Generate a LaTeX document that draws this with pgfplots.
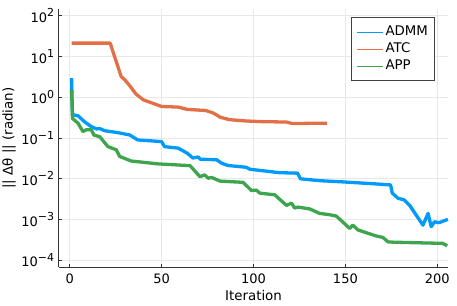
\documentclass[border=0pt]{standalone}
\usepackage{fontspec}
\setmainfont{DejaVu Sans}
\usepackage{pgfplots}
\pgfplotsset{compat=1.18}
\definecolor{cA}{RGB}{0,154,250}
\definecolor{cB}{RGB}{227,111,71}
\definecolor{cC}{RGB}{62,164,78}
\newcommand{\tl}[1]{10\raisebox{0.42em}{\fontsize{11}{11}\selectfont #1}}
\begin{document}
\fontsize{13.2}{15}\selectfont
\begin{tikzpicture}
\begin{axis}[
  at={(0,0)}, anchor=south west,
  scale only axis, width=389.6pt, height=257.7pt,
  xmin=-6, xmax=206,
  ymode=log, ymin=6.76e-5, ymax=143.5,
  axis x line*=bottom, axis y line*=left,
  axis line style={-, draw=black!80, line width=0.9pt},
  xtick={0,50,100,150,200},
  ytick={1e-4,1e-3,1e-2,1e-1,1,10,100},
  yticklabels={\tl{−4},\tl{−3},\tl{−2},\tl{−1},\tl{0},\tl{1},\tl{2}},
  /pgf/number format/assume math mode=true,
  tick style={draw=black!80, line width=0.6pt},
  major tick length=3pt,
  minor tick num=0,
  yminorticks=false,
  grid=major,
  major grid style={draw=black!9, line width=0.5pt},
  tick label style={font=\fontsize{13}{15}\selectfont},
  xticklabel style={yshift=-2pt},
  label style={font=\fontsize{13.4}{15}\selectfont},
  xlabel={Iteration},
  ylabel={|| Δθ || (radian)},
  xlabel style={at={(axis description cs:0.5,-0.1087)}, anchor=center},
  ylabel style={at={(axis description cs:-0.1276,0.5)}, anchor=center},
  legend style={at={(0.9666,0.969)}, anchor=north east, draw=black!75, line width=0.8pt,
    font=\fontsize{13.3}{15}\selectfont, inner xsep=5pt, inner ysep=6.5pt,
    row sep=1.2pt, legend cell align=left},
  legend image code/.code={\draw[#1, line width=0.7pt] (0pt,0pt) -- (26pt,0pt);},
  every axis plot/.append style={line width=3.3pt, line join=round},
]
\addplot[cA] coordinates {
(1,2.93) (1.5,0.37) (4.5,0.35) (8,0.25) (11.7,0.19) (14.5,0.166) (16.3,0.17) (19,0.15)
(26,0.135) (32.6,0.118) (37,0.089) (50,0.081) (51.6,0.061) (59,0.056) (64,0.042)
(67,0.032) (70,0.034) (71,0.030) (80,0.029) (82.6,0.024) (86,0.021) (96,0.019) (98,0.017)
(114,0.014) (124,0.0136) (125.5,0.0099) (136,0.0089) (148.7,0.0083) (166.8,0.0074)
(174.6,0.0070) (175.5,0.0044) (178.6,0.0033) (182,0.0030) (185,0.0022) (192.2,0.00072)
(195,0.0014) (196.7,0.00066) (198.5,0.00087) (201,0.00083) (205.8,0.0010)
};
\addlegendentry{ADMM}
\addplot[cB] coordinates {
(1,21.2) (22,21.2) (25,8.2) (28,3.2) (30,2.66) (33,1.82) (36,1.2) (40,0.86) (44,0.74)
(50,0.59) (59,0.57) (64,0.50) (74,0.47) (78,0.41) (82,0.32) (87,0.28) (96,0.26)
(105,0.25) (118,0.245) (121,0.225) (140,0.23)
};
\addlegendentry{ATC}
\addplot[cC] coordinates {
(1,1.5) (1.5,0.30) (4.5,0.23) (7.2,0.143) (9,0.158) (11.7,0.158) (13.2,0.117) (16.3,0.107)
(20.8,0.061) (25.3,0.051) (27.2,0.035) (33.5,0.027) (37,0.026) (48,0.023) (64,0.021)
(65.4,0.021) (70.8,0.0112) (73.5,0.0123) (75.3,0.0102) (77.2,0.0107) (81.7,0.0087)
(94.3,0.0081) (98.9,0.0051) (101.6,0.0052) (103.4,0.0044) (111.6,0.0040) (117.9,0.0022)
(120.7,0.0025) (122.4,0.0019) (124.2,0.0020) (130.6,0.0018) (136,0.0014) (141.4,0.0013)
(145.1,0.0012) (152.3,0.0006) (154.1,0.00072) (156.8,0.00055) (166.8,0.00039)
(170.4,0.00036) (173.2,0.00028) (175.9,0.000275) (203,0.000257) (205.4,0.000224)
};
\addlegendentry{APP}
\end{axis}
\pgfresetboundingbox
\path (-58.7pt,-38pt) rectangle (398.3pt,267pt);
\end{tikzpicture}
\end{document}
